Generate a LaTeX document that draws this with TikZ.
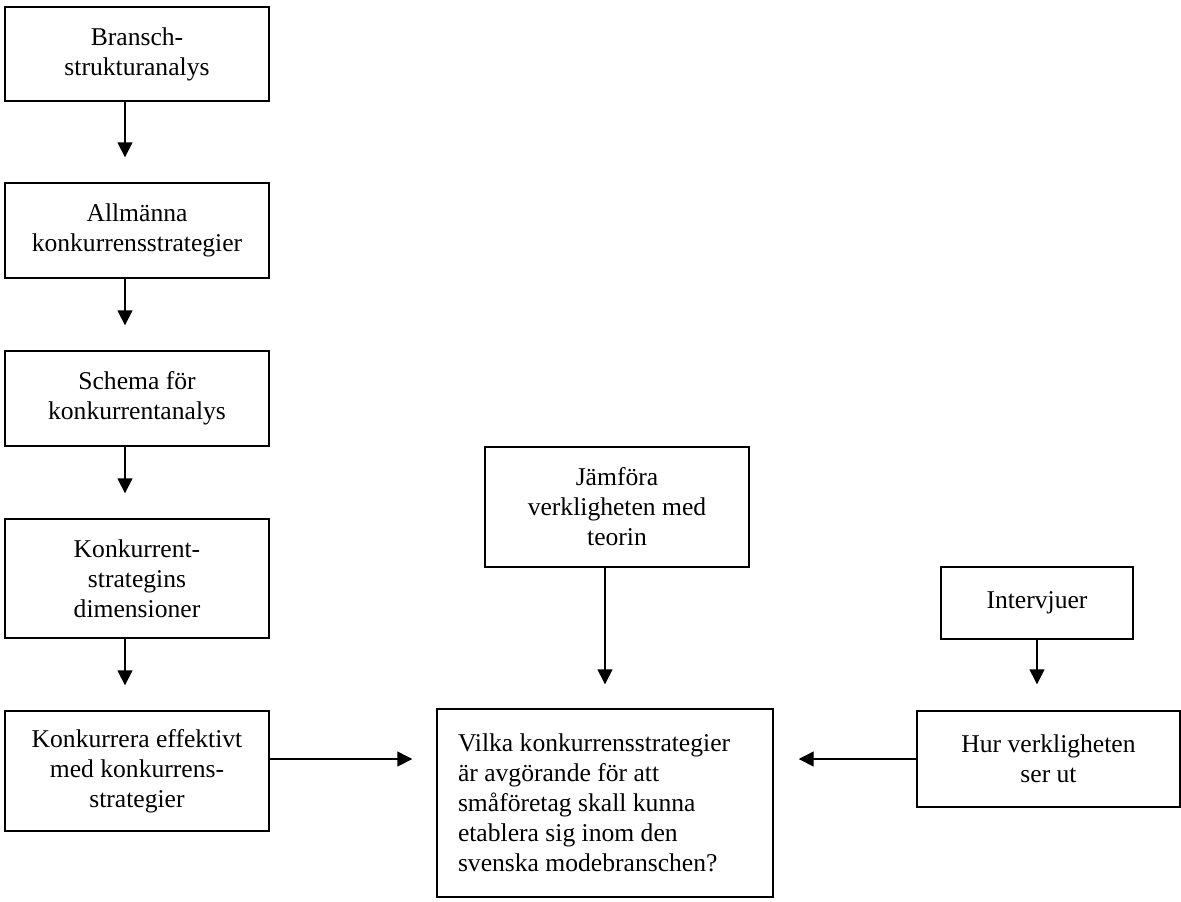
\documentclass[tikz,border=0pt]{standalone}
\usepackage{fontspec}
\setmainfont{Liberation Serif}
\usepackage{tikz}
\usetikzlibrary{arrows.meta}

\begin{document}
\begin{tikzpicture}[x=0.5pt,y=-0.5pt,
    box/.style={draw,line width=0.7pt,align=center,inner sep=4pt,
      font=\fontsize{12.8}{15}\selectfont},
    arr/.style={line width=0.7pt,-{Triangle[length=7.5pt,width=7.5pt]}}]
  \useasboundingbox (0,0) rectangle (1181,901);
  % left column
  \node[box,minimum width=132pt,minimum height=47pt] (bransch) at (137,54)
    {Bransch-\\strukturanalys};
  \node[box,minimum width=132pt,minimum height=47.5pt] (allm) at (137,230.5)
    {Allmänna\\konkurrensstrategier};
  \node[box,minimum width=132pt,minimum height=47.5pt] (schema) at (137,398.5)
    {Schema för\\konkurrentanalys};
  \node[box,minimum width=132pt,minimum height=59.5pt] (dim) at (137,578.5)
    {Konkurrent-\\strategins\\dimensioner};
  \node[box,minimum width=132pt,minimum height=60pt] (eff) at (137,771)
    {Konkurrera effektivt\\med konkurrens-\\strategier};
  % question and the empirical side
  \node[box,align=flush left,text width=147pt,inner xsep=10.5pt,minimum height=94pt]
    (fraga) at (605,803)
    {Vilka konkurrensstrategier\\är avgörande för att\\småföretag skall kunna\\etablera sig inom den\\svenska modebranschen?};
  \node[box,minimum width=132pt,minimum height=60pt] (jfr) at (617,507)
    {Jämföra\\verkligheten med\\teorin};
  \node[box,minimum width=96pt,minimum height=36pt] (intv) at (1037,603)
    {Intervjuer};
  \node[box,minimum width=131.5pt,minimum height=48pt] (verk) at (1048.5,759)
    {Hur verkligheten\\ser ut};
  % arrows
  \draw[arr,shorten >=12.5pt] ([xshift=-6pt]bransch.south) -- ([xshift=-6pt]allm.north);
  \draw[arr,shorten >=12.5pt] ([xshift=-6pt]allm.south) -- ([xshift=-6pt]schema.north);
  \draw[arr,shorten >=12.5pt] ([xshift=-6pt]schema.south) -- ([xshift=-6pt]dim.north);
  \draw[arr,shorten >=12.5pt] ([xshift=-6pt]dim.south) -- ([xshift=-6pt]eff.north);
  \draw[arr,shorten >=12pt] (fraga.north |- jfr.south) -- (fraga.north);
  \draw[arr,shorten >=13pt] (intv.south) -- (intv.south |- verk.north);
  \draw[arr,shorten >=12pt] (eff.east |- verk.west) -- (fraga.west |- verk.west);
  \draw[arr,shorten >=12.5pt] (verk.west) -- (verk.west -| fraga.east);
\end{tikzpicture}
\end{document}
